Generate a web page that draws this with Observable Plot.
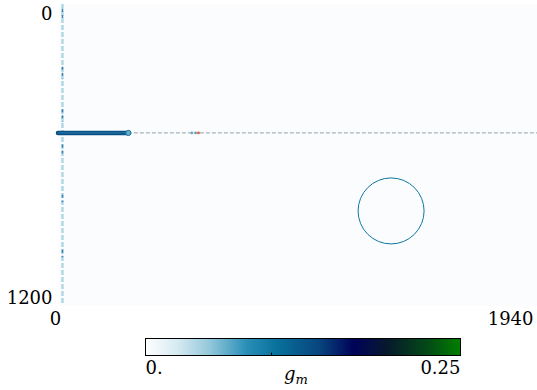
<!DOCTYPE html>
<html>
<head>
<meta charset="utf-8">
<script src="https://cdn.jsdelivr.net/npm/d3@7"></script>
<script src="https://cdn.jsdelivr.net/npm/@observablehq/plot@0.6"></script>
<style>
  html, body { margin: 0; padding: 0; background: #fff; overflow: hidden; }
  #chart { width: 537px; }
  svg { display: block; overflow: visible; }
  svg text { font-family: "DejaVu Serif", "Liberation Serif", serif !important; }
</style>
</head>
<body>
<div id="chart"></div>
<script>
// ---- data ----
const xDomain = [0, 1940];
const yDomain = [0, 1200];
const xTicks = [0, 1940];
const yTicks = [0, 1200];

// phase-field features (domain units) with their g_m values
const boundary = [{x: 16, g: 0.04}];                      // left vertical dashed boundary
const boundaryDark = [                                     // darker bits along the boundary (y ranges)
  {y1: 20, y2: 60}, {y1: 250, y2: 300}, {y1: 420, y2: 470},
  {y1: 560, y2: 600}, {y1: 760, y2: 790}, {y1: 980, y2: 1010}
];
const crack = [{x1: 0, x2: 283, y: 512, g: 0.13}];         // thick developed crack
const crackTip = [{x: 283, y: 512, g: 0.1}];
const crackPath = [{x1: 283, x2: 1940, y: 512}];          // faint dashed pre-crack path
const hotSpots = [{x: 540, y: 512, c: "#6aa8c0"}, {x: 555, y: 512, c: "#6aa8c0"}, {x: 567, y: 512, c: "#e0603a"}];
const particle = [{x: 1347, y: 823, g: 0.1}];             // circular inclusion

// colour bar
const gMax = 0.25;
const cbStops = [0, 0.1, 0.2, 0.32, 0.42, 0.55, 0.66, 0.77, 0.9, 1];
const cbColors = ["#ffffff", "#d6ebf2", "#96c9dc", "#2a90b8", "#08709c", "#08467e", "#00035a", "#071a2c", "#034c16", "#008000"];
const cbTickLabels = [{v: 0, t: "0."}, {v: 0.25, t: "0.25"}];
const cbMinorTicks = [0.1];

const colorScale = {
  type: "linear",
  domain: cbStops.map(s => s * gMax),
  range: cbColors,
  interpolate: "rgb"
};

const font = "DejaVu Serif, serif";
const fs = 18;
const fmt = d => String(d);

const main = Plot.plot({
  width: 537,
  height: 325,
  marginLeft: 58,
  marginRight: 0,
  marginTop: 4,
  marginBottom: 20,
  style: {fontFamily: font, fontSize: fs + "px", color: "#000", background: "transparent", overflow: "visible"},
  x: {domain: xDomain, axis: null},
  y: {domain: yDomain, reverse: true, axis: null},
  color: colorScale,
  marks: [
    Plot.frame({fill: "#fbfcfd", stroke: "none"}),
    Plot.ruleX(boundary, {x: "x", stroke: d => d.g, strokeWidth: 2.5, strokeDasharray: "5,2"}),
    Plot.ruleX(boundaryDark, {x: boundary[0].x, y1: "y1", y2: "y2", stroke: "#3d7fa6", strokeWidth: 1.5, strokeDasharray: "3,3"}),
    Plot.ruleY(crackPath, {x1: "x1", x2: "x2", y: "y", stroke: "#a9b3bb", strokeWidth: 1.3, strokeDasharray: "4,2"}),
    Plot.ruleY(crack, {x1: "x1", x2: "x2", y: "y", stroke: d => d.g, strokeWidth: 4.5, strokeLinecap: "round"}),
    Plot.ruleY(crack, {x1: "x1", x2: "x2", y: "y", stroke: "#3a86b4", strokeWidth: 1.2, strokeOpacity: 0.6}),
    Plot.dot(crackTip, {x: "x", y: "y", r: 2.6, fill: "#6aa9c7", stroke: d => d.g, strokeWidth: 1}),
    Plot.dot(hotSpots, {x: "x", y: "y", r: 1.4, fill: d => d.c, stroke: "none"}),
    Plot.dot(particle, {x: "x", y: "y", r: 33, fill: "none", stroke: d => d.g, strokeWidth: 1}),
    Plot.axisY([yTicks[0]], {tickSize: 0, tickPadding: 6, dy: 10, fontSize: fs, tickFormat: fmt, label: null}),
    Plot.axisY([yTicks[1]], {tickSize: 0, tickPadding: 6, dy: -7, fontSize: fs, tickFormat: fmt, label: null}),
    Plot.axisX([xTicks[0]], {tickSize: 0, tickPadding: 7, dx: -3, fontSize: fs, tickFormat: fmt, label: null}),
    Plot.axisX([xTicks[1]], {tickSize: 0, tickPadding: 7, dx: -4, textAnchor: "end", fontSize: fs, tickFormat: fmt, label: null})
  ]
});

const bar = Plot.plot({
  width: 537,
  height: 65,
  marginLeft: 145,
  marginRight: 77,
  marginTop: 13,
  marginBottom: 35,
  style: {fontFamily: font, fontSize: fs + "px", color: "#000", background: "transparent", overflow: "visible"},
  x: {domain: [0, gMax], axis: null},
  y: {domain: [0, 1], axis: null},
  color: colorScale,
  marks: [
    Plot.raster({x1: 0, x2: gMax, y1: 0, y2: 1, width: 315, height: 1, fill: (x, y) => x, imageRendering: "auto"}),
    Plot.ruleX(cbMinorTicks, {y1: 0, y2: 0.14, stroke: "#000", strokeWidth: 1}),
    Plot.frame({stroke: "#000", strokeWidth: 1}),
    Plot.text([cbTickLabels[0]], {x: "v", text: "t", frameAnchor: "bottom", dy: 18, textAnchor: "start", fontSize: fs}),
    Plot.text([cbTickLabels[1]], {x: "v", text: "t", frameAnchor: "bottom", dy: 18, textAnchor: "end", fontSize: fs})
  ]
});

// axis label g_m (italic g with subscript m)
const lab = d3.select(bar).append("text")
  .attr("x", 296).attr("y", 55)
  .attr("text-anchor", "middle")
  .attr("font-size", fs).attr("font-style", "italic");
lab.append("tspan").text("g");
lab.append("tspan").attr("dy", 4).attr("font-size", 13).text("m");

const root = document.getElementById("chart");
root.appendChild(main);
root.appendChild(bar);
</script>
</body>
</html>
